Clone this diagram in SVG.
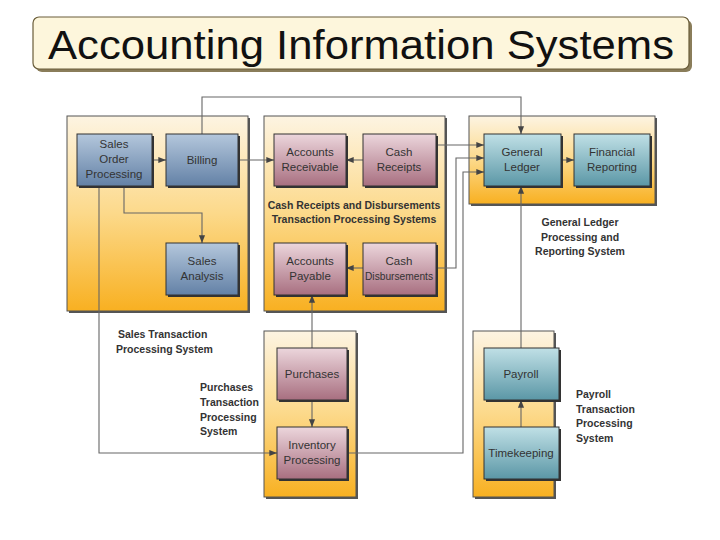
<svg xmlns="http://www.w3.org/2000/svg" width="720" height="540" viewBox="0 0 720 540">
<defs>
<linearGradient id="pg" x1="0" y1="0" x2="0" y2="1"><stop offset="0" stop-color="#fdf4e2"/><stop offset="0.5" stop-color="#fcd98a"/><stop offset="1" stop-color="#f8b021"/></linearGradient>
<linearGradient id="bg" x1="0" y1="0" x2="0" y2="1"><stop offset="0" stop-color="#b4c7dc"/><stop offset="1" stop-color="#6381a6"/></linearGradient>
<linearGradient id="rg" x1="0" y1="0" x2="0" y2="1"><stop offset="0" stop-color="#ecd6dc"/><stop offset="1" stop-color="#a86f80"/></linearGradient>
<linearGradient id="tg" x1="0" y1="0" x2="0" y2="1"><stop offset="0" stop-color="#c0e0e6"/><stop offset="1" stop-color="#5b97a6"/></linearGradient>
<marker id="a" viewBox="0 0 10 10" refX="10" refY="5" markerWidth="7" markerHeight="7" orient="auto"><path d="M0,1 L10,5 L0,9 z" fill="#444"/></marker>
<style>
.p{fill:url(#pg);stroke:#555;stroke-width:1}
.ps{fill:#555}
.n{stroke:#333;stroke-width:1}
.b{fill:url(#bg)}.r{fill:url(#rg)}.t{fill:url(#tg)}
.ns{fill:#333}
.nt{font-family:"Liberation Sans",Arial,sans-serif;font-size:11.5px;fill:#333;text-anchor:middle}
.lb{font-family:"Liberation Sans",Arial,sans-serif;font-size:10.5px;font-weight:bold;fill:#333}
.c{fill:none;stroke:#666;stroke-width:1.1}
</style>
</defs>
<rect width="720" height="540" fill="#fff"/>
<g id="title">
<rect x="36" y="20" width="656" height="52" rx="6" fill="#8a7d5a"/>
<rect x="33" y="17" width="656" height="52" rx="6" fill="#fdf6dc" stroke="#6a5d3a" stroke-width="1.2"/>
<text x="361" y="59" font-family="Liberation Sans,Arial,sans-serif" font-size="41" text-anchor="middle" fill="#111" textLength="626" lengthAdjust="spacingAndGlyphs">Accounting Information Systems</text>
</g>
<g id="panels">
<rect x="69" y="118" width="181" height="195" class="ps"/><rect x="67" y="116" width="181" height="195" class="p"/>
<rect x="266" y="118" width="181" height="195" class="ps"/><rect x="264" y="116" width="181" height="195" class="p"/>
<rect x="471" y="118" width="186" height="88" class="ps"/><rect x="469" y="116" width="186" height="88" class="p"/>
<rect x="266" y="333" width="92" height="166" class="ps"/><rect x="264" y="331" width="92" height="166" class="p"/>
<rect x="475" y="333" width="81" height="166" class="ps"/><rect x="473" y="331" width="81" height="166" class="p"/>
</g>
<g id="connectors">
<path class="c" d="M202,134 V97 H521 V134" marker-end="url(#a)"/>
<path class="c" d="M152,160 H166" marker-end="url(#a)"/>
<path class="c" d="M124,186 V213 H202 V243" marker-end="url(#a)"/>
<path class="c" d="M238,160 H274" marker-end="url(#a)"/>
<path class="c" d="M363,160 H346" marker-end="url(#a)"/>
<path class="c" d="M436,145 H484" marker-end="url(#a)"/>
<path class="c" d="M436,268 H456 V158 H484" marker-end="url(#a)"/>
<path class="c" d="M363,268 H346" marker-end="url(#a)"/>
<path class="c" d="M312,348 V295" marker-end="url(#a)"/>
<path class="c" d="M312,400 V427" marker-end="url(#a)"/>
<path class="c" d="M99,186 V453 H277" marker-end="url(#a)"/>
<path class="c" d="M347,453 H463 V172 H484" marker-end="url(#a)"/>
<path class="c" d="M521,348 V186" marker-end="url(#a)"/>
<path class="c" d="M521,427 V400" marker-end="url(#a)"/>
<path class="c" d="M561,160 H574" marker-end="url(#a)"/>
</g>
<g id="n-sop"><rect x="79" y="136" width="75" height="52" class="ns"/><rect x="77" y="134" width="75" height="52" class="n b"/><text class="nt" x="114" y="148">Sales</text><text class="nt" x="114" y="163">Order</text><text class="nt" x="114" y="178">Processing</text></g>
<g id="n-billing"><rect x="168" y="136" width="72" height="52" class="ns"/><rect x="166" y="134" width="72" height="52" class="n b"/><text class="nt" x="202" y="164">Billing</text></g>
<g id="n-sa"><rect x="168" y="245" width="72" height="52" class="ns"/><rect x="166" y="243" width="72" height="52" class="n b"/><text class="nt" x="202" y="265">Sales</text><text class="nt" x="202" y="280">Analysis</text></g>
<g id="n-ar"><rect x="276" y="136" width="72" height="52" class="ns"/><rect x="274" y="134" width="72" height="52" class="n r"/><text class="nt" x="310" y="156">Accounts</text><text class="nt" x="310" y="171">Receivable</text></g>
<g id="n-cr"><rect x="365" y="136" width="73" height="52" class="ns"/><rect x="363" y="134" width="73" height="52" class="n r"/><text class="nt" x="399" y="156">Cash</text><text class="nt" x="399" y="171">Receipts</text></g>
<g id="n-ap"><rect x="276" y="245" width="72" height="52" class="ns"/><rect x="274" y="243" width="72" height="52" class="n r"/><text class="nt" x="310" y="265">Accounts</text><text class="nt" x="310" y="280">Payable</text></g>
<g id="n-cd"><rect x="365" y="245" width="73" height="52" class="ns"/><rect x="363" y="243" width="73" height="52" class="n r"/><text class="nt" x="399" y="265">Cash</text><text class="nt" x="399" y="280" font-size="11" textLength="68" lengthAdjust="spacingAndGlyphs">Disbursements</text></g>
<g id="n-gl"><rect x="486" y="136" width="77" height="52" class="ns"/><rect x="484" y="134" width="77" height="52" class="n t"/><text class="nt" x="522" y="156">General</text><text class="nt" x="522" y="171">Ledger</text></g>
<g id="n-fr"><rect x="576" y="136" width="76" height="52" class="ns"/><rect x="574" y="134" width="76" height="52" class="n t"/><text class="nt" x="612" y="156">Financial</text><text class="nt" x="612" y="171">Reporting</text></g>
<g id="n-pur"><rect x="279" y="350" width="70" height="52" class="ns"/><rect x="277" y="348" width="70" height="52" class="n r"/><text class="nt" x="312" y="378">Purchases</text></g>
<g id="n-inv"><rect x="279" y="429" width="70" height="52" class="ns"/><rect x="277" y="427" width="70" height="52" class="n r"/><text class="nt" x="312" y="449">Inventory</text><text class="nt" x="312" y="464">Processing</text></g>
<g id="n-pay"><rect x="486" y="350" width="75" height="52" class="ns"/><rect x="484" y="348" width="75" height="52" class="n t"/><text class="nt" x="521" y="378">Payroll</text></g>
<g id="n-tk"><rect x="486" y="429" width="75" height="52" class="ns"/><rect x="484" y="427" width="75" height="52" class="n t"/><text class="nt" x="521" y="457">Timekeeping</text></g>
<g id="labels">
<text class="lb" x="354" y="209" text-anchor="middle">Cash Receipts and Disbursements</text>
<text class="lb" x="354" y="223" text-anchor="middle">Transaction Processing Systems</text>
<text class="lb" x="580" y="226" text-anchor="middle">General Ledger</text>
<text class="lb" x="580" y="241" text-anchor="middle">Processing and</text>
<text class="lb" x="580" y="255" text-anchor="middle">Reporting System</text>
<text class="lb" x="118" y="338">Sales Transaction</text>
<text class="lb" x="116" y="353">Processing System</text>
<text class="lb" x="200" y="391">Purchases</text>
<text class="lb" x="200" y="406">Transaction</text>
<text class="lb" x="200" y="421">Processing</text>
<text class="lb" x="200" y="435">System</text>
<text class="lb" x="576" y="398">Payroll</text>
<text class="lb" x="576" y="413">Transaction</text>
<text class="lb" x="576" y="427">Processing</text>
<text class="lb" x="576" y="442">System</text>
</g>
</svg>
